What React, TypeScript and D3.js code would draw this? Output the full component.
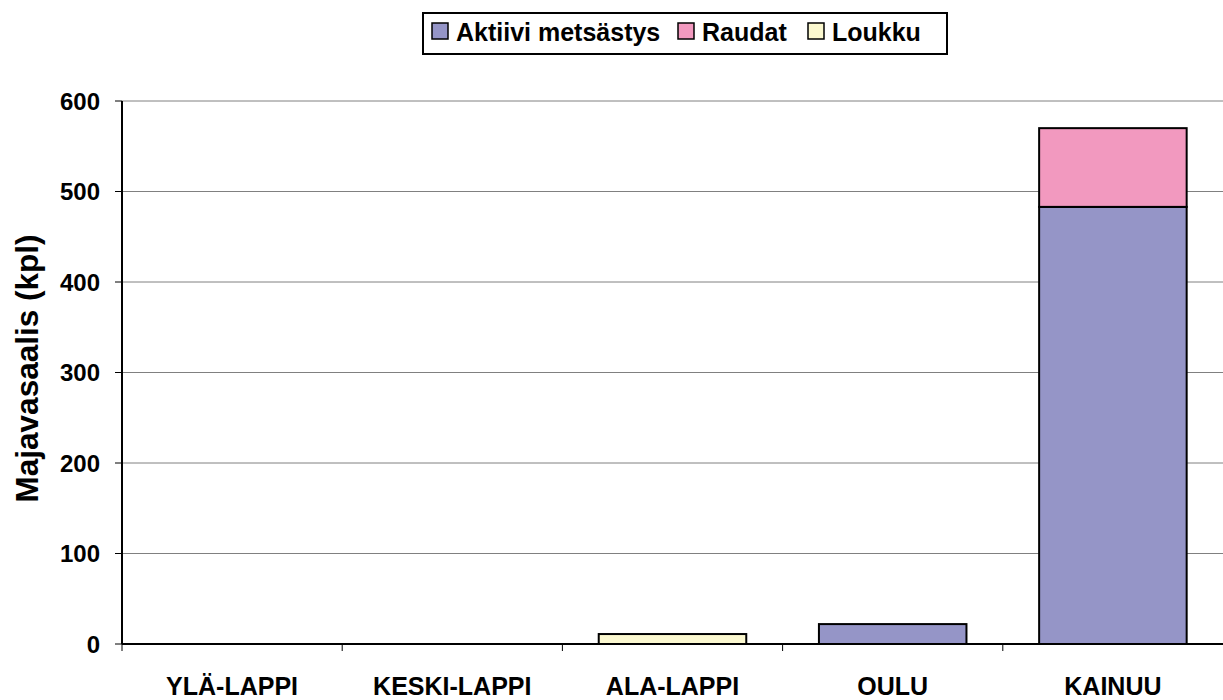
import * as React from 'react';
import * as d3 from 'd3';

const regions = ['YLÄ-LAPPI', 'KESKI-LAPPI', 'ALA-LAPPI', 'OULU', 'KAINUU'];
const seriesNames = ['Aktiivi metsästys', 'Raudat', 'Loukku'];
const aktiivi = [0, 0, 0, 22, 483];
const raudat = [0, 0, 0, 0, 87];
const loukku = [0, 0, 11, 0, 0];
const yTicks = [0, 100, 200, 300, 400, 500, 600];
const colors = ['#9595C7', '#F299BF', '#FBF8CF'];

const W = 1223;
const H = 700;
const margin = { top: 101, right: 0, bottom: 56, left: 122 };
const font = 'Arial, "Liberation Sans", sans-serif';

export default function App() {
  const ref = React.useRef<SVGSVGElement>(null);

  React.useEffect(() => {
    const svg = d3.select(ref.current);
    svg.selectAll('*').remove();

    const x = d3
      .scaleBand()
      .domain(regions)
      .range([margin.left, W - margin.right])
      .paddingInner(0.33)
      .paddingOuter(0.165);
    const y = d3
      .scaleLinear()
      .domain([0, 600])
      .range([H - margin.bottom, margin.top]);

    // gridlines
    svg
      .append('g')
      .selectAll('line')
      .data(yTicks.filter((d) => d > 0))
      .join('line')
      .attr('x1', margin.left)
      .attr('x2', W)
      .attr('y1', (d) => y(d))
      .attr('y2', (d) => y(d))
      .attr('stroke', '#808080')
      .attr('stroke-width', 1);

    // stacked bars
    const table = regions.map((r, i) => ({
      region: r,
      'Aktiivi metsästys': aktiivi[i],
      Raudat: raudat[i],
      Loukku: loukku[i],
    }));
    const stacked = d3.stack<any>().keys(seriesNames)(table);

    svg
      .append('g')
      .selectAll('g')
      .data(stacked)
      .join('g')
      .attr('fill', (_, i) => colors[i])
      .selectAll('rect')
      .data((d) => d.filter((s) => s[1] - s[0] > 0))
      .join('rect')
      .attr('x', (d) => x(d.data.region)!)
      .attr('width', x.bandwidth())
      .attr('y', (d) => y(d[1]))
      .attr('height', (d) => y(d[0]) - y(d[1]))
      .attr('stroke', '#000')
      .attr('stroke-width', 2);

    // y axis
    const yAxis = svg.append('g');
    yAxis
      .append('line')
      .attr('x1', margin.left)
      .attr('x2', margin.left)
      .attr('y1', y(600))
      .attr('y2', y(0))
      .attr('stroke', '#000')
      .attr('stroke-width', 2);
    yAxis
      .selectAll('line.tick')
      .data(yTicks)
      .join('line')
      .attr('class', 'tick')
      .attr('x1', margin.left - 7)
      .attr('x2', margin.left)
      .attr('y1', (d) => y(d))
      .attr('y2', (d) => y(d))
      .attr('stroke', '#000')
      .attr('stroke-width', 1);
    yAxis
      .selectAll('text')
      .data(yTicks)
      .join('text')
      .attr('x', margin.left - 22)
      .attr('y', (d) => y(d))
      .attr('dy', '0.36em')
      .attr('text-anchor', 'end')
      .attr('font-family', font)
      .attr('font-weight', 'bold')
      .attr('font-size', 24)
      .text((d) => d);

    // x axis
    const xAxis = svg.append('g');
    xAxis
      .append('line')
      .attr('x1', margin.left)
      .attr('x2', W)
      .attr('y1', y(0))
      .attr('y2', y(0))
      .attr('stroke', '#000')
      .attr('stroke-width', 2);
    const step = x.step();
    xAxis
      .selectAll('line.tick')
      .data(regions)
      .join('line')
      .attr('class', 'tick')
      .attr('x1', (_, i) => margin.left + i * step)
      .attr('x2', (_, i) => margin.left + i * step)
      .attr('y1', y(0))
      .attr('y2', y(0) + 7)
      .attr('stroke', '#000')
      .attr('stroke-width', 1);
    xAxis
      .selectAll('text')
      .data(regions)
      .join('text')
      .attr('x', (d) => x(d)! + x.bandwidth() / 2)
      .attr('y', 695)
      .attr('text-anchor', 'middle')
      .attr('font-family', font)
      .attr('font-weight', 'bold')
      .attr('font-size', 25)
      .text((d) => d);

    // y title
    svg
      .append('text')
      .attr('transform', `translate(38, ${(y(0) + y(600)) / 2 - 4}) rotate(-90)`)
      .attr('text-anchor', 'middle')
      .attr('font-family', font)
      .attr('font-weight', 'bold')
      .attr('font-size', 31.5)
      .text('Majavasaalis (kpl)');

    // legend
    const legend = svg.append('g');
    legend
      .append('rect')
      .attr('x', 423)
      .attr('y', 13)
      .attr('width', 524)
      .attr('height', 41)
      .attr('fill', '#fff')
      .attr('stroke', '#000')
      .attr('stroke-width', 2);
    const itemX = [432, 678, 808];
    seriesNames.forEach((name, i) => {
      legend
        .append('rect')
        .attr('x', itemX[i])
        .attr('y', 23)
        .attr('width', 16)
        .attr('height', 16)
        .attr('fill', colors[i])
        .attr('stroke', '#000')
        .attr('stroke-width', 1.5);
      legend
        .append('text')
        .attr('x', itemX[i] + 24)
        .attr('y', 41)
        .attr('font-family', font)
        .attr('font-weight', 'bold')
        .attr('font-size', 25)
        .text(name);
    });
  }, []);

  return (
    <svg
      ref={ref}
      width={W}
      height={H}
      style={{ position: 'absolute', left: 0, top: 0, background: '#fff' }}
    />
  );
}
